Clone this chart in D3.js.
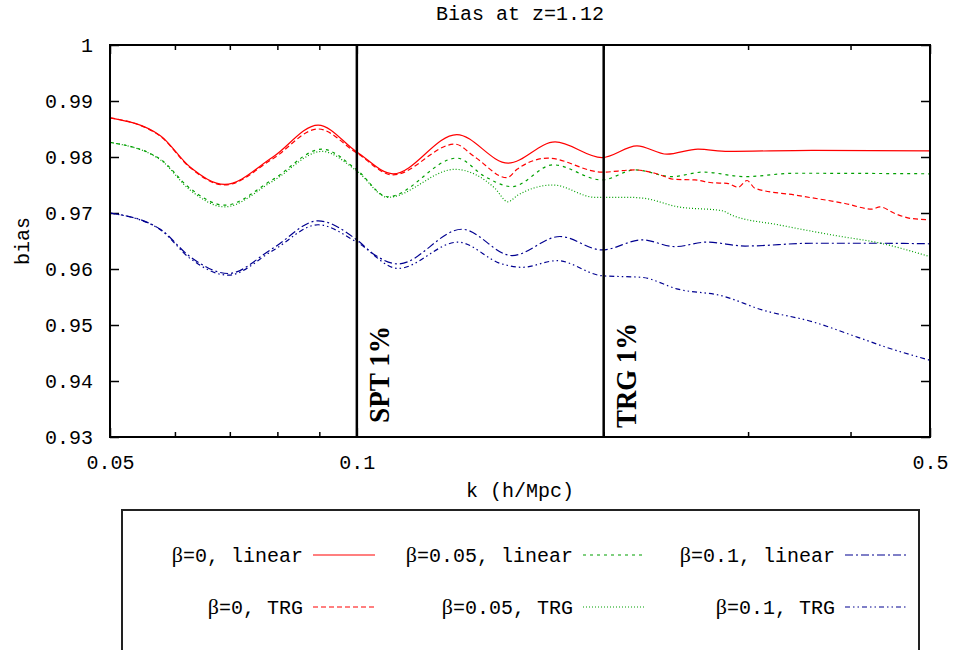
<!DOCTYPE html>
<meta charset="utf-8">
<style>
body { margin: 0; background: #fff; }
text { font-family: "Liberation Mono", "Courier New", monospace; font-size: 20px; fill: #000; }
.frame { fill: none; stroke: #000; stroke-width: 2px; }
.tick line { stroke: #000; stroke-width: 1.5px; }
.curve { fill: none; stroke-width: 1.2px; }
</style>
<svg width="954" height="650"></svg>
<script src="https://d3js.org/d3.v7.min.js"></script>
<script>

var svg = d3.select("svg");

// x 轴刻度
var kMajor = [0.05, 0.1, 0.5];
var kMinor = [0.06, 0.07, 0.08, 0.09, 0.2, 0.3, 0.4];
var biasTicks = [0.93, 0.94, 0.95, 0.96, 0.97, 0.98, 0.99, 1];

// 竖线位置
var markK = [0.1, 0.2];
var markLabel = ["SPT 1%", "TRG 1%"];

// beta=0, linear
var k0lin = [0.05, 0.0576, 0.0626, 0.0690, 0.0790, 0.0897, 0.1000, 0.1107, 0.1324, 0.1529, 0.1745, 0.1990, 0.2196, 0.2389, 0.2606, 0.2836, 0.3590, 0.5];
var b0lin = [0.9870, 0.9838, 0.9782, 0.9751, 0.9800, 0.9857, 0.9809, 0.9770, 0.9840, 0.9789, 0.9827, 0.9799, 0.9820, 0.9805, 0.9814, 0.9810, 0.9812, 0.9811];

// beta=0, TRG
var k0trg = [0.05, 0.0576, 0.0626, 0.0690, 0.0790, 0.0897, 0.1000, 0.1107, 0.1317, 0.1393, 0.1524, 0.1568, 0.1710, 0.1990, 0.2183, 0.2310, 0.2443, 0.2584, 0.2711, 0.2828, 0.2917, 0.2991, 0.3059, 0.3423, 0.3938, 0.4248, 0.4344, 0.4531, 0.4754, 0.5];
var b0trg = [0.9870, 0.9837, 0.9781, 0.9750, 0.9797, 0.9850, 0.9807, 0.9768, 0.9823, 0.9800, 0.9763, 0.9778, 0.9798, 0.9773, 0.9777, 0.9771, 0.9760, 0.9759, 0.9754, 0.9753, 0.9746, 0.9758, 0.9744, 0.9732, 0.9717, 0.9707, 0.9711, 0.9699, 0.9690, 0.9688];

// beta=0.05, linear
var k05lin = [0.05, 0.0576, 0.0626, 0.0690, 0.0790, 0.0907, 0.1000, 0.1091, 0.1324, 0.1433, 0.1546, 0.1735, 0.1990, 0.2183, 0.2422, 0.2643, 0.2975, 0.3423, 0.5];
var b05lin = [0.9826, 0.9796, 0.9744, 0.9714, 0.9760, 0.9814, 0.9777, 0.9729, 0.9798, 0.9765, 0.9747, 0.9786, 0.9759, 0.9777, 0.9765, 0.9773, 0.9765, 0.9771, 0.9770];

// beta=0.05, TRG
var k05trg = [0.05, 0.0576, 0.0626, 0.0690, 0.0790, 0.0907, 0.1000, 0.1091, 0.1317, 0.1474, 0.1528, 0.1572, 0.1735, 0.1952, 0.2141, 0.2246, 0.2464, 0.2789, 0.2868, 0.3264, 0.3861, 0.4320, 0.5];
var b05trg = [0.9826, 0.9795, 0.9741, 0.9711, 0.9757, 0.9810, 0.9775, 0.9728, 0.9778, 0.9744, 0.9720, 0.9732, 0.9750, 0.9728, 0.9728, 0.9726, 0.9711, 0.9704, 0.9696, 0.9679, 0.9659, 0.9647, 0.9622];

// beta=0.1, linear
var k1lin = [0.05, 0.0576, 0.0626, 0.0697, 0.0790, 0.0897, 0.1000, 0.1052, 0.1123, 0.1343, 0.1546, 0.1769, 0.1990, 0.2227, 0.2443, 0.2673, 0.2975, 0.3590, 0.4320, 0.5];
var b1lin = [0.9700, 0.9671, 0.9622, 0.9592, 0.9637, 0.9686, 0.9652, 0.9625, 0.9609, 0.9671, 0.9624, 0.9658, 0.9634, 0.9652, 0.9640, 0.9648, 0.9641, 0.9646, 0.9646, 0.9645];

// beta=0.1, TRG
var k1trg = [0.05, 0.0576, 0.0626, 0.0697, 0.0790, 0.0897, 0.1000, 0.1123, 0.1328, 0.1503, 0.1590, 0.1755, 0.1990, 0.2227, 0.2464, 0.2789, 0.3120, 0.3590, 0.4084, 0.4406, 0.5];
var b1trg = [0.9700, 0.9670, 0.9619, 0.9589, 0.9633, 0.9679, 0.9648, 0.9601, 0.9648, 0.9609, 0.9603, 0.9615, 0.9588, 0.9585, 0.9564, 0.9552, 0.9527, 0.9506, 0.9478, 0.9461, 0.9437];

var labels = ["=0, linear", "=0.05, linear", "=0.1, linear", "=0, TRG", "=0.05, TRG", "=0.1, TRG"];
var kData = [k0lin, k05lin, k1lin, k0trg, k05trg, k1trg];
var bData = [b0lin, b05lin, b1lin, b0trg, b05trg, b1trg];
var colors = ["#ff0000", "#00a000", "#000090", "#ff0000", "#00a000", "#000090"];
var dashes = [null, "3,4", "8,3,2,3", "5,3", "1,2", "5,3,1.5,3,1.5,3"];

var series = labels.map(function(l, i) {
  return {
    label: l, color: colors[i], dash: dashes[i],
    values: kData[i].map(function(k, j) { return {k: k, b: bData[i][j]}; })
  };
});

// 注意: 不能用 top 作变量名 (window.top)
var pL = 110, pR = 930, pT = 45, pB = 437;

var x = d3.scaleLog().domain([0.05, 0.5]).range([pL, pR]);
var y = d3.scaleLinear().domain([0.93, 1]).range([pB, pT]);

var fmtY = function(d) { return d === 1 ? "1" : d3.format(".2f")(d); };

function clean(g) {
  g.select(".domain").remove();
  g.selectAll("text").style("font-size", "20px").style("font-family", null).attr("fill", "#000");
}

// 坐标轴 (刻度朝内)
svg.append("g").attr("transform", "translate(" + pL + ",0)")
    .call(d3.axisLeft(y).tickValues(biasTicks).tickSize(-9).tickPadding(17).tickFormat(fmtY))
    .call(clean);
svg.append("g").attr("transform", "translate(" + pR + ",0)")
    .call(d3.axisRight(y).tickValues(biasTicks).tickSize(-9).tickFormat(""))
    .call(clean);

svg.append("g").attr("transform", "translate(0," + pB + ")")
    .call(d3.axisBottom(x).tickValues(kMajor).tickSize(-9).tickPadding(18).tickFormat(d3.format("")))
    .call(clean);
svg.append("g").attr("transform", "translate(0," + pB + ")")
    .call(d3.axisBottom(x).tickValues(kMinor).tickSize(-5).tickFormat(""))
    .call(clean);
svg.append("g").attr("transform", "translate(0," + pT + ")")
    .call(d3.axisTop(x).tickValues(kMajor).tickSize(-9).tickFormat(""))
    .call(clean);
svg.append("g").attr("transform", "translate(0," + pT + ")")
    .call(d3.axisTop(x).tickValues(kMinor).tickSize(-5).tickFormat(""))
    .call(clean);

// 曲线
var line = d3.line()
    .x(function(d) { return x(d.k); })
    .y(function(d) { return y(d.b); })
    .curve(d3.curveMonotoneX);

svg.append("g").selectAll("path")
    .data(series)
    .enter().append("path")
      .attr("class", "curve")
      .attr("stroke", function(d) { return d.color; })
      .attr("stroke-dasharray", function(d) { return d.dash; })
      .attr("d", function(d) { return line(d.values); });

// 竖线和标注
svg.append("g").selectAll("line")
    .data(markK)
    .enter().append("line")
      .attr("x1", function(d) { return x(d); })
      .attr("x2", function(d) { return x(d); })
      .attr("y1", pT).attr("y2", pB)
      .attr("stroke", "#000").attr("stroke-width", 2.5);

svg.append("g").selectAll("text")
    .data(markK)
    .enter().append("text")
      .attr("transform", function(d, i) {
        return "translate(" + (x(d) + 32) + "," + (i === 0 ? 423 : 428) + ") rotate(-90)";
      })
      .attr("textLength", function(d, i) { return i === 0 ? 97 : 105; })
      .attr("lengthAdjust", "spacingAndGlyphs")
      .style("font-family", "'Liberation Serif', 'Times New Roman', serif")
      .style("font-weight", "bold")
      .style("font-size", "30px")
      .text(function(d, i) { return markLabel[i]; });

// 边框
svg.append("rect").attr("class", "frame")
    .attr("x", pL).attr("y", pT)
    .attr("width", pR - pL).attr("height", pB - pT);

// 标题和轴标签
svg.append("text").attr("x", (pL + pR) / 2).attr("y", 20)
    .attr("text-anchor", "middle").text("Bias at z=1.12");
svg.append("text").attr("x", (pL + pR) / 2).attr("y", 497)
    .attr("text-anchor", "middle").text("k (h/Mpc)");
svg.append("text").attr("transform", "translate(29," + ((pT + pB) / 2) + ") rotate(-90)")
    .attr("text-anchor", "middle").text("bias");

// 图例
svg.append("rect")
    .attr("x", 122).attr("y", 510).attr("width", 797).attr("height", 160)
    .attr("fill", "none").attr("stroke", "#222").attr("stroke-width", 2);

var colX = [313, 583, 845];
var rowY = [555, 607];

var leg = svg.append("g").selectAll("g")
    .data(series)
    .enter().append("g")
      .attr("transform", function(d, i) {
        return "translate(" + colX[i % 3] + "," + rowY[Math.floor(i / 3)] + ")";
      });

leg.append("line")
    .attr("x1", 0).attr("x2", 62).attr("y1", 0).attr("y2", 0)
    .attr("stroke", function(d) { return d.color; })
    .attr("stroke-width", 1.2)
    .attr("stroke-dasharray", function(d) { return d.dash; });

var lt = leg.append("text")
    .attr("x", -10).attr("y", 7)
    .attr("text-anchor", "end");
lt.append("tspan")
    .style("font-family", "'Liberation Serif', 'Times New Roman', serif")
    .style("font-size", "22px")
    .text("β");
lt.append("tspan").text(function(d) { return d.label; });

</script>
